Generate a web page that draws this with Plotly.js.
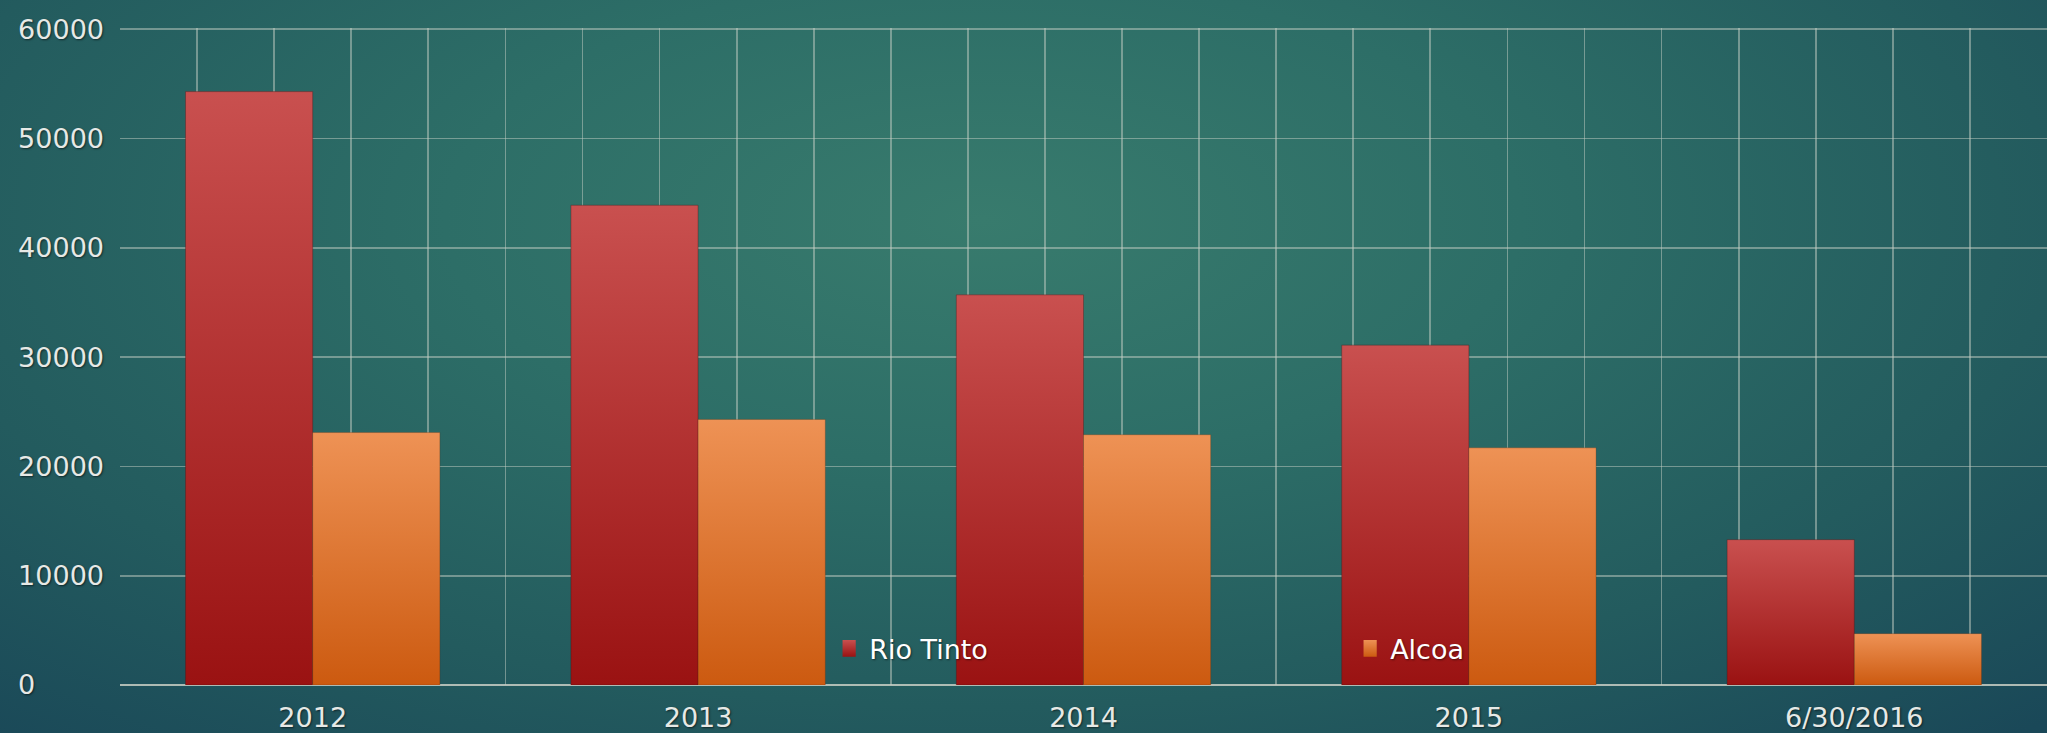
<!DOCTYPE html>
<html>
<head>
<meta charset="utf-8">
<script src="https://cdn.plot.ly/plotly-3.0.1.min.js"></script>
<style>
  html, body { margin: 0; padding: 0; width: 2047px; height: 733px; overflow: hidden; }
  body {
    background: radial-gradient(ellipse 75% 95% at 48% 30%, #387b6d 0%, #2d6e67 35%, #235b5e 70%, #1a4858 100%);
  }
  #chart { width: 2047px; height: 733px; }
</style>
</head>
<body>
<div id="chart"></div>
<script>
// ---- data ----
const categories = ["2012", "2013", "2014", "2015", "6/30/2016"];
const rioTinto = [54300, 43900, 35700, 31100, 13300];
const alcoa = [23100, 24300, 22900, 21700, 4700];
const seriesNames = ["Rio Tinto", "Alcoa"];
const yTickVals = [0, 10000, 20000, 30000, 40000, 50000, 60000];
const yTickText = ["0\u2007\u2007\u2007\u2007", "10000", "20000", "30000", "40000", "50000", "60000"];

const catIndex = categories.map(function (c, i) { return i; });

const labelFont = { family: "DejaVu Sans, sans-serif", size: 27, color: "#e6e9e6", shadow: "1px 1px 2px rgba(0,0,0,0.55)" };
const gridCol = "rgba(195,205,195,0.5)";

const traces = [
  { type: "bar", name: seriesNames[0], x: catIndex, y: rioTinto,
    marker: { color: "#b33030", line: { color: "rgba(70,20,20,0.35)", width: 1 } }, hoverinfo: "skip" },
  { type: "bar", name: seriesNames[1], x: catIndex, y: alcoa,
    marker: { color: "#e2772f", line: { color: "rgba(90,40,10,0.25)", width: 1 } }, hoverinfo: "skip" }
];

const layout = {
  width: 2047, height: 733,
  margin: { l: 120, r: 0, t: 28, b: 48 },
  paper_bgcolor: "rgba(0,0,0,0)",
  plot_bgcolor: "rgba(0,0,0,0)",
  barmode: "group",
  bargap: 0.34,
  bargroupgap: 0,
  showlegend: true,
  legend: {
    orientation: "h",
    x: 0.368, xanchor: "left",
    y: 0.055, yanchor: "middle",
    entrywidth: 476, entrywidthmode: "pixels",
    bgcolor: "rgba(0,0,0,0)",
    font: { family: "DejaVu Sans, sans-serif", size: 27, color: "#ffffff", shadow: "1px 1px 2px rgba(0,0,0,0.5)" },
    traceorder: "normal"
  },
  xaxis: {
    type: "linear",
    range: [-0.5, 4.5],
    tickmode: "array",
    tickvals: catIndex,
    ticktext: categories,
    showgrid: false,
    showline: false,
    zeroline: false,
    ticks: "",
    tickfont: labelFont,
    ticklabelstandoff: 14,
    minor: {
      tickmode: "linear",
      tick0: -0.3,
      dtick: 0.2,
      showgrid: true,
      gridcolor: gridCol,
      gridwidth: 1.8,
      ticks: ""
    },
    fixedrange: true
  },
  yaxis: {
    range: [0, 60120],
    tickvals: yTickVals,
    ticktext: yTickText,
    showgrid: true,
    gridcolor: gridCol,
    gridwidth: 1.8,
    zeroline: true,
    zerolinecolor: "rgba(200,206,196,0.85)",
    zerolinewidth: 2,
    ticks: "",
    tickfont: labelFont,
    ticklabelstandoff: 15,
    fixedrange: true
  },
  hovermode: false
};

Plotly.newPlot("chart", traces, layout, { displayModeBar: false, staticPlot: true }).then(function (gd) {
  const svg = gd.querySelector("svg.main-svg");
  const ns = "http://www.w3.org/2000/svg";
  let defs = svg.querySelector("defs");
  if (!defs) { defs = document.createElementNS(ns, "defs"); svg.insertBefore(defs, svg.firstChild); }
  function addGrad(id, top, bottom) {
    const g = document.createElementNS(ns, "linearGradient");
    g.setAttribute("id", id);
    g.setAttribute("x1", "0"); g.setAttribute("y1", "0");
    g.setAttribute("x2", "0"); g.setAttribute("y2", "1");
    const s1 = document.createElementNS(ns, "stop");
    s1.setAttribute("offset", "0"); s1.setAttribute("stop-color", top);
    const s2 = document.createElementNS(ns, "stop");
    s2.setAttribute("offset", "1"); s2.setAttribute("stop-color", bottom);
    g.appendChild(s1); g.appendChild(s2);
    defs.appendChild(g);
  }
  addGrad("gradRio", "#c9504f", "#9a1212");
  addGrad("gradAlcoa", "#ee9255", "#cc5a10");
  const ids = ["gradRio", "gradAlcoa"];
  const barTraces = gd.querySelectorAll(".barlayer .trace");
  barTraces.forEach(function (t, i) {
    t.querySelectorAll("path").forEach(function (p) { p.style.fill = "url(#" + ids[i] + ")"; });
  });
  const legTraces = gd.querySelectorAll(".legend .traces");
  legTraces.forEach(function (t, i) {
    t.querySelectorAll(".legendpoints path").forEach(function (p) {
      p.style.fill = "url(#" + ids[i] + ")";
      p.style.stroke = "none";
      p.setAttribute("transform", p.getAttribute("transform") + " scale(1.1,1.4)");
    });
  });
});
</script>
</body>
</html>
